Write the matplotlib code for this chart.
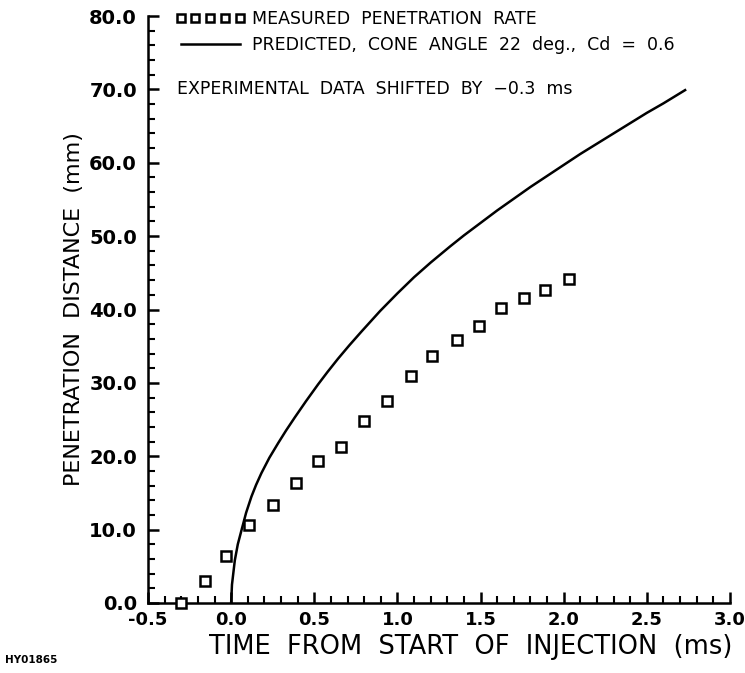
import matplotlib
matplotlib.use("Agg")
import matplotlib.pyplot as plt
from matplotlib.ticker import MultipleLocator, FormatStrFormatter

# measured penetration (shifted by -0.3 ms)
meas_t = [-0.30, -0.16, -0.03, 0.11, 0.25, 0.39, 0.52, 0.66, 0.80, 0.94,
          1.08, 1.21, 1.36, 1.49, 1.62, 1.76, 1.89, 2.03]
meas_d = [0.0, 3.0, 6.4, 10.6, 13.4, 16.3, 19.3, 21.3, 24.8, 27.5,
          30.9, 33.7, 35.9, 37.8, 40.2, 41.5, 42.6, 44.1]

# predicted curve
pred_t = [0.0, 0.005, 0.022, 0.04, 0.062, 0.09, 0.122, 0.15, 0.182, 0.23,
          0.283, 0.33, 0.383, 0.45, 0.523, 0.58, 0.643, 0.71, 0.784, 0.896,
          1.0, 1.1, 1.2, 1.317, 1.4, 1.5, 1.6, 1.7, 1.8, 1.9,
          2.0, 2.1, 2.2, 2.3, 2.4, 2.5, 2.6, 2.73]
pred_d = [0.0, 2.5, 5.8, 8.0, 9.9, 12.3, 14.5, 16.1, 17.7, 19.8,
          21.8, 23.5, 25.3, 27.5, 29.8, 31.5, 33.3, 35.1, 37.0, 39.8,
          42.2, 44.4, 46.4, 48.6, 50.1, 51.8, 53.5, 55.1, 56.7, 58.2,
          59.7, 61.2, 62.6, 64.0, 65.4, 66.8, 68.1, 69.9]

xticks = [-0.5, 0.0, 0.5, 1.0, 1.5, 2.0, 2.5, 3.0]
yticks = [0, 10, 20, 30, 40, 50, 60, 70, 80]

plt.rcParams['font.family'] = ['DejaVu Sans']
plt.rcParams['axes.unicode_minus'] = True

fig = plt.figure(figsize=(7.45, 6.73), dpi=100)
ax = fig.add_axes([148 / 745, 1 - 603 / 673, (730 - 148) / 745, (603 - 16) / 673])

ax.plot(meas_t, meas_d, linestyle='none', marker='s', markersize=7,
        markerfacecolor='white', markeredgecolor='black', markeredgewidth=1.8,
        label='MEASURED  PENETRATION  RATE', clip_on=False, zorder=3)
ax.plot(pred_t, pred_d, color='black', linewidth=1.8, solid_joinstyle='round',
        label='PREDICTED,  CONE  ANGLE  22  deg.,  Cd  =  0.6')

ax.set_xlim(-0.5, 3.0)
ax.set_ylim(0, 80)
ax.set_xticks(xticks)
ax.set_yticks(yticks)
ax.xaxis.set_minor_locator(MultipleLocator(0.1))
ax.yaxis.set_minor_locator(MultipleLocator(2))
ax.xaxis.set_major_formatter(FormatStrFormatter('%.1f'))
ax.yaxis.set_major_formatter(FormatStrFormatter('%.1f'))

for s in ['top', 'right']:
    ax.spines[s].set_visible(False)
for s in ['left', 'bottom']:
    ax.spines[s].set_linewidth(1.8)

ax.tick_params(which='major', direction='in', length=8, width=1.8, labelsize=14)
ax.tick_params(axis='x', which='major', pad=6, labelsize=13)
ax.tick_params(axis='y', which='major', pad=8)
ax.tick_params(which='minor', direction='in', length=5, width=1.5)
for lab in ax.get_xticklabels() + ax.get_yticklabels():
    lab.set_fontweight('bold')

ax.set_xlabel('TIME  FROM  START  OF  INJECTION  (ms)', fontsize=18.5)
ax.xaxis.set_label_coords((471 - 148) / 582, -0.052)
ax.set_ylabel('PENETRATION  DISTANCE  (mm)', fontsize=16, labelpad=4)

leg = ax.legend(loc='upper left', bbox_to_anchor=(0.035, 1.022), frameon=False,
                numpoints=5, markerscale=0.75, fontsize=12.5, handlelength=4.0,
                handletextpad=0.4, labelspacing=0.45, borderaxespad=0.0)

ax.text(-0.325, 70.1, 'EXPERIMENTAL  DATA  SHIFTED  BY  \u22120.3  ms', fontsize=12.5,
        va='center', ha='left')

fig.text(5 / 745, 1 - 660 / 673, 'HY01865', fontsize=7.5, fontweight='bold',
         va='center', ha='left')

fig.savefig('out.png', dpi=100)
